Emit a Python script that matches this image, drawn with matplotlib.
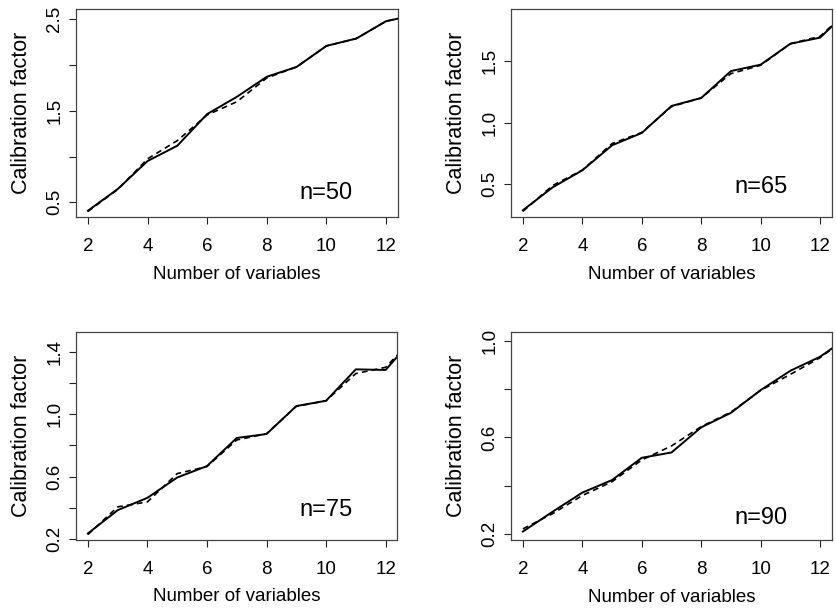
import matplotlib
matplotlib.use("Agg")
import matplotlib.pyplot as plt

plt.rcParams['font.family'] = ['Liberation Sans', 'DejaVu Sans']

# number of variables
n_vars = [2, 3, 4, 5, 6, 7, 8, 9, 10, 11, 12, 13]

# calibration factor, solid and dashed curves per sample size
cal_50_solid = [0.408, 0.645, 0.951, 1.119, 1.465, 1.654, 1.873, 1.98, 2.21, 2.29, 2.48, 2.55]
cal_50_dash = [0.40, 0.64, 0.975, 1.175, 1.455, 1.60, 1.86, 1.98, 2.21, 2.29, 2.48, 2.55]

cal_65_solid = [0.289, 0.475, 0.613, 0.816, 0.916, 1.135, 1.20, 1.418, 1.47, 1.64, 1.689, 1.92]
cal_65_dash = [0.28, 0.49, 0.615, 0.83, 0.92, 1.13, 1.20, 1.397, 1.465, 1.64, 1.70, 1.92]

cal_75_solid = [0.237, 0.386, 0.465, 0.595, 0.668, 0.848, 0.873, 1.052, 1.086, 1.287, 1.283, 1.50]
cal_75_dash = [0.23, 0.407, 0.439, 0.62, 0.665, 0.835, 0.875, 1.05, 1.086, 1.26, 1.30, 1.50]

cal_90_solid = [0.211, 0.293, 0.372, 0.424, 0.516, 0.538, 0.642, 0.702, 0.796, 0.876, 0.934, 1.02]
cal_90_dash = [0.222, 0.285, 0.36, 0.417, 0.507, 0.565, 0.645, 0.705, 0.795, 0.861, 0.93, 1.02]

panels = [
    ("n=50", cal_50_solid, cal_50_dash, (0.336, 2.61), [0.5, 1.0, 1.5, 2.0, 2.5], ["0.5", "", "1.5", "", "2.5"], 0.605),
    ("n=65", cal_65_solid, cal_65_dash, (0.232, 1.919), [0.5, 1.0, 1.5], ["0.5", "1.0", "1.5"], 0.48),
    ("n=75", cal_75_solid, cal_75_dash, (0.197, 1.524), [0.2, 0.4, 0.6, 0.8, 1.0, 1.2, 1.4],
     ["0.2", "", "0.6", "", "1.0", "", "1.4"], 0.386),
    ("n=90", cal_90_solid, cal_90_dash, (0.176, 1.035), [0.2, 0.4, 0.6, 0.8, 1.0], ["0.2", "", "0.6", "", "1.0"], 0.266),
]

W, H = 837, 609
fig = plt.figure(figsize=(W / 100, H / 100), dpi=100)

# axes boxes in pixels: left, top, right, bottom
boxes = [(76, 9.3, 398, 217.3), (511, 9.3, 832, 217.3),
         (76, 332.3, 397.5, 539.7), (511, 332.3, 832, 540)]

for (label, solid, dash, ylim, yt, ytl, ty), (l, t, r, b) in zip(panels, boxes):
    ax = fig.add_axes([l / W, 1 - b / H, (r - l) / W, (b - t) / H])
    ax.plot(n_vars, solid, color='black', lw=1.4)
    ax.plot(n_vars, dash, color='black', lw=1.2, dashes=(3.5, 2.5))
    ax.set_xlim(1.6, 12.4)
    ax.set_ylim(*ylim)
    ax.set_xticks([2, 4, 6, 8, 10, 12])
    ax.set_yticks(yt)
    ax.set_yticklabels(ytl, rotation=90, va='center')
    ax.tick_params(direction='out', length=5, width=0.8, labelsize=13.5, color='#222222')
    ax.tick_params(axis='x', pad=10)
    ax.tick_params(axis='y', pad=4)
    for s in ax.spines.values():
        s.set_color('#444444')
        s.set_linewidth(0.9)
    ax.set_xlabel("Number of variables", fontsize=13.5)
    ax.set_ylabel("Calibration factor", fontsize=15.5)
    ax.xaxis.set_label_coords(0.5, -57 / (b - t))
    ax.xaxis.label.set_va('center')
    ax.yaxis.set_label_coords(-54.3 / (r - l), 0.5)
    ax.yaxis.label.set_va('center')
    ax.text(10, ty, label, fontsize=17, ha='center', va='center')

fig.savefig("out.png", dpi=100)
